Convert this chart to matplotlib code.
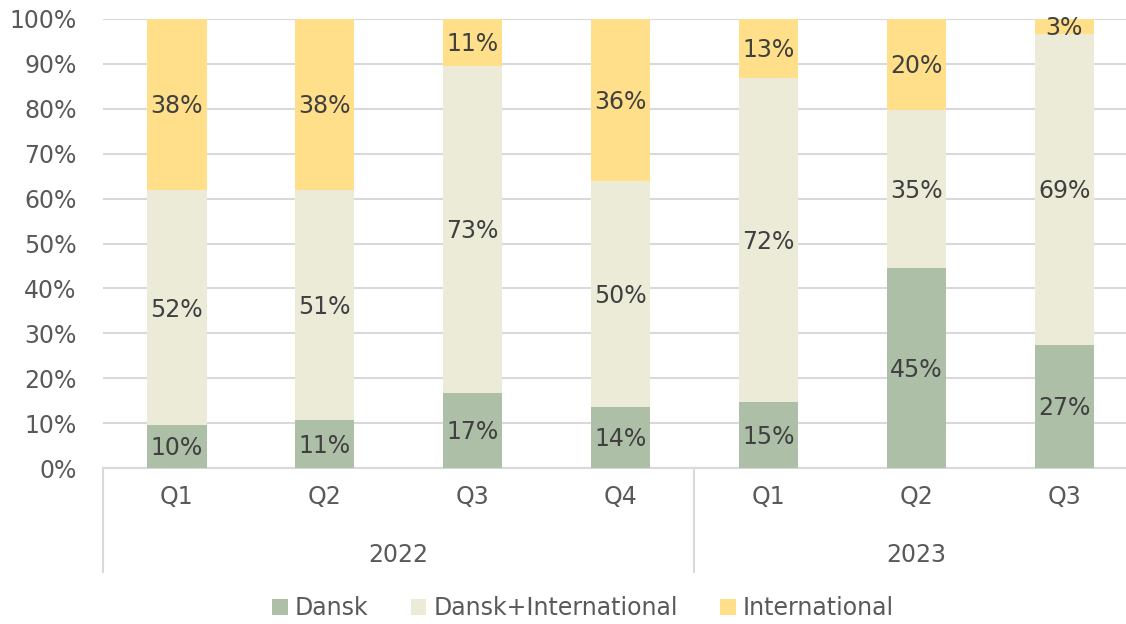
import matplotlib
matplotlib.use("Agg")
import matplotlib.pyplot as plt
import numpy as np

quarters = ["Q1", "Q2", "Q3", "Q4", "Q1", "Q2", "Q3"]
years = ["2022", "2023"]
year_counts = [4, 3]
series_names = ["Dansk", "Dansk+International", "International"]
dansk = [9.5, 10.7, 16.7, 13.6, 14.7, 44.5, 27.4]
dansk_intl = [52.4, 51.2, 72.8, 50.3, 72.2, 35.2, 69.3]
international = [38.1, 38.1, 10.5, 36.1, 13.1, 20.3, 3.3]
labels = [
    ["10%", "11%", "17%", "14%", "15%", "45%", "27%"],
    ["52%", "51%", "73%", "50%", "72%", "35%", "69%"],
    ["38%", "38%", "11%", "36%", "13%", "20%", "3%"],
]
colors = ["#adbfa7", "#ebebd8", "#ffdf8a"]

plt.rcParams['font.family'] = ['DejaVu Sans']
FS = 17
W, H = 1126, 624
fig = plt.figure(figsize=(W / 100, H / 100), dpi=100)
left_px, right_px, top_px, bot_px = 103, 1138, 19, 468
ax = fig.add_axes([left_px / W, 1 - bot_px / H, (right_px - left_px) / W, (bot_px - top_px) / H])

x = np.arange(len(quarters))
bottom = np.zeros(len(quarters))
series = [dansk, dansk_intl, international]
px = 1.0 / (bot_px - top_px)
for vals, col, name, labs in zip(series, colors, series_names, labels):
    vals = np.array(vals)
    ax.bar(x, vals, bottom=bottom, width=0.4, color=col, label=name, zorder=3)
    for xi, b, v, lab in zip(x, bottom, vals, labs):
        ax.text(xi, b + v / 2 - 0.4, lab, ha='center', va='center', fontsize=FS,
                color='#404040', zorder=4)
    bottom += vals

ax.set_xlim(-0.5, len(quarters) - 0.5)
ax.set_ylim(0, 100)
ax.set_yticks(np.arange(0, 101, 10))
ax.set_yticklabels([f"{v}%" for v in range(0, 101, 10)], fontsize=FS, color='#595959')
ax.tick_params(axis='y', length=0, pad=19)
ax.tick_params(axis='x', length=0, labelbottom=False)
ax.grid(axis='y', color='#d9d9d9', linewidth=1.5, zorder=0)
for s in ['top', 'right', 'left']:
    ax.spines[s].set_visible(False)
ax.spines['bottom'].set_color('#d9d9d9')
ax.spines['bottom'].set_linewidth(1.5)

trans = ax.get_xaxis_transform()
for xi, q in zip(x, quarters):
    ax.text(xi, -29 * px, q, transform=trans, ha='center', va='center',
            fontsize=FS, color='#595959', clip_on=False)

sep_bottom = -(572 - 468) * px
start = 0
bounds = [-0.5]
for yr, n in zip(years, year_counts):
    end = start + n
    ax.text((start + end - 1) / 2, -87 * px, yr, transform=trans, ha='center',
            va='center', fontsize=FS, color='#595959', clip_on=False)
    bounds.append(end - 0.5)
    start = end
for b in bounds:
    ax.plot([b, b], [0, sep_bottom], transform=trans, color='#d9d9d9',
            linewidth=1.5, clip_on=False)

fig.legend(loc='center', bbox_to_anchor=(583 / W, 1 - 608 / H), ncol=3,
           frameon=False, fontsize=FS, handlelength=0.65, handleheight=0.65,
           handletextpad=0.3, columnspacing=1.8, labelcolor='#595959')

fig.savefig("out.png", dpi=100)
